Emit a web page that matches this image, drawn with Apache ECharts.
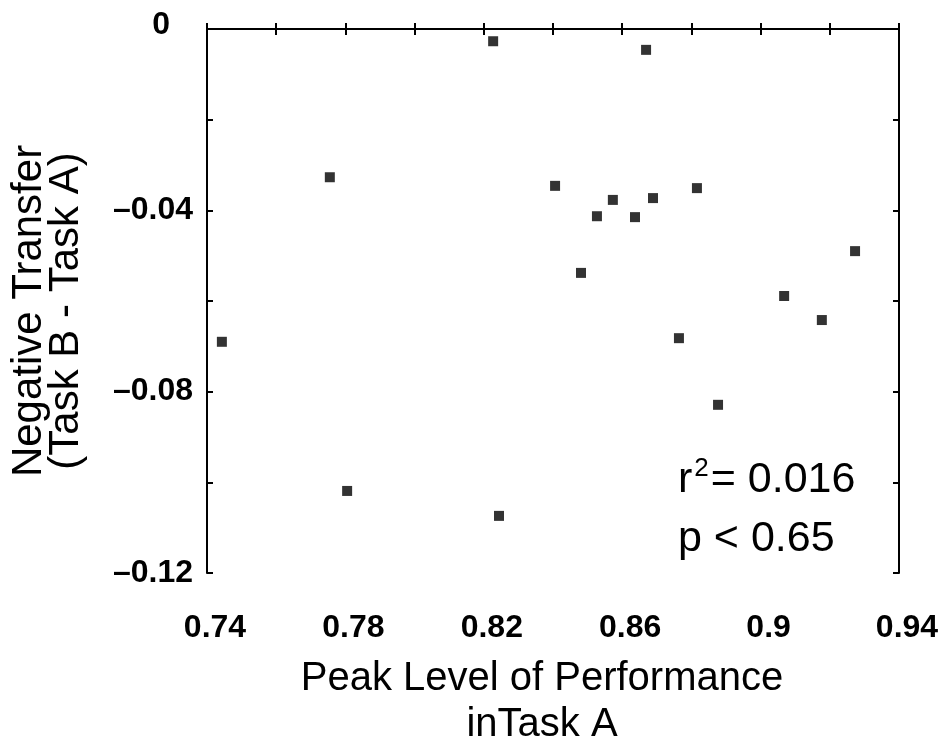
<!DOCTYPE html>
<html>
<head>
<meta charset="utf-8">
<script src="https://cdn.jsdelivr.net/npm/echarts@6/dist/echarts.min.js"></script>
<style>html,body{margin:0;padding:0;background:#fff}#c{width:942px;height:746px}</style>
</head>
<body>
<div id="c"></div>
<script>
// Data
var peakPerformance = [0.7443, 0.7755, 0.7805, 0.8227, 0.8244, 0.8406, 0.8481, 0.8527, 0.8573, 0.8637, 0.8669, 0.8689, 0.8764, 0.8816, 0.8877, 0.9068, 0.9177, 0.9273];
var negativeTransfer = [-0.0690, -0.0327, -0.1019, -0.0027, -0.1074, -0.0346, -0.0538, -0.0413, -0.0377, -0.0415, -0.0046, -0.0373, -0.0682, -0.0351, -0.0829, -0.0589, -0.0642, -0.0490];
var xTicks = [0.74, 0.78, 0.82, 0.86, 0.90, 0.94];
var yTicks = [0, -0.04, -0.08, -0.12];
var xTitle = 'Peak Level of Performance\ninTask A';
var yTitleLines = ['Negative Transfer', '(Task B - Task A)'];
var statLine1 = ['r', '2', '= 0.016'];
var statLine2 = 'p < 0.65';

var FONT = "'Liberation Sans', Arial, Helvetica, sans-serif";
var points = peakPerformance.map(function (x, i) { return [x, negativeTransfer[i]]; });

function isTick(list, v) {
  for (var i = 0; i < list.length; i++) if (Math.abs(list[i] - v) < 1e-6) return true;
  return false;
}
function fmtX(v) {
  if (!isTick(xTicks, v)) return '';
  return String(parseFloat(v.toFixed(2)));
}
function fmtY(v) {
  if (!isTick(yTicks, v)) return '';
  if (Math.abs(v) < 1e-9) return '{z|0}';
  return '\u2013' + Math.abs(v).toFixed(2);
}

var axisLineStyle = { color: '#000', width: 2 };
var tickStyle = { show: true, inside: true, length: 6, lineStyle: { color: '#000', width: 2 } };

var chart = echarts.init(document.getElementById('c'), null, { renderer: 'canvas' });
chart.setOption({
  backgroundColor: '#fff',
  animation: false,
  grid: { left: 207, top: 29, right: 43, bottom: 173, containLabel: false, outerBoundsMode: 'none' },
  xAxis: [{
    type: 'value', min: 0.74, max: 0.94, interval: 0.02, position: 'bottom',
    axisLine: { show: true, lineStyle: axisLineStyle },
    axisTick: tickStyle,
    splitLine: { show: false },
    axisLabel: { formatter: fmtX, margin: 39, color: '#000', fontFamily: FONT, fontWeight: 'bold', fontSize: 32, padding: [0, 0, 0, 16] },
    name: xTitle, nameLocation: 'middle', nameGap: 83,
    nameTextStyle: { fontFamily: FONT, fontSize: 40, color: '#000', lineHeight: 46, padding: [0, 22, 0, 0] }
  }, {
    type: 'value', min: 0.74, max: 0.94, interval: 0.02, position: 'top',
    axisLine: { show: true, lineStyle: axisLineStyle },
    axisTick: tickStyle, axisLabel: { show: false }, splitLine: { show: false }
  }],
  yAxis: [{
    type: 'value', min: -0.12, max: 0, interval: 0.02, position: 'left',
    axisLine: { show: true, lineStyle: axisLineStyle },
    axisTick: tickStyle,
    splitLine: { show: false },
    axisLabel: { formatter: fmtY, margin: 14, color: '#000', fontFamily: FONT, fontWeight: 'bold', fontSize: 32,
      rich: { z: { fontFamily: FONT, fontWeight: 'bold', fontSize: 32, color: '#000', padding: [0, 23, 8, 0] } } }
  }, {
    type: 'value', min: -0.12, max: 0, interval: 0.02, position: 'right',
    axisLine: { show: true, lineStyle: axisLineStyle },
    axisTick: tickStyle, axisLabel: { show: false }, splitLine: { show: false }
  }],
  series: [{
    type: 'scatter', xAxisIndex: 0, yAxisIndex: 0,
    symbol: 'rect', symbolSize: 10,
    itemStyle: { color: '#000' },
    data: points
  }],
  graphic: [{
    type: 'text', x: 29, y: 311, rotation: Math.PI / 2,
    style: { text: yTitleLines[0], fontFamily: FONT, fontSize: 42, fill: '#000', textAlign: 'center', textVerticalAlign: 'middle' }
  }, {
    type: 'text', x: 66, y: 311, rotation: Math.PI / 2,
    style: { text: yTitleLines[1], fontFamily: FONT, fontSize: 42, fill: '#000', textAlign: 'center', textVerticalAlign: 'middle' }
  }, {
    type: 'text', left: 678, top: 456,
    style: {
      text: '{a|' + statLine1[0] + '}{s|' + statLine1[1] + '}{a|' + statLine1[2] + '}',
      rich: {
        a: { fontFamily: FONT, fontSize: 43, color: '#000', lineHeight: 46, verticalAlign: 'bottom' },
        s: { fontFamily: FONT, fontSize: 26, color: '#000', lineHeight: 46, verticalAlign: 'top', padding: [0, 2, 0, 2] }
      }
    }
  }, {
    type: 'text', left: 678, top: 518,
    style: { text: statLine2, fontFamily: FONT, fontSize: 43, fill: '#000' }
  }]
});
</script>
</body>
</html>
